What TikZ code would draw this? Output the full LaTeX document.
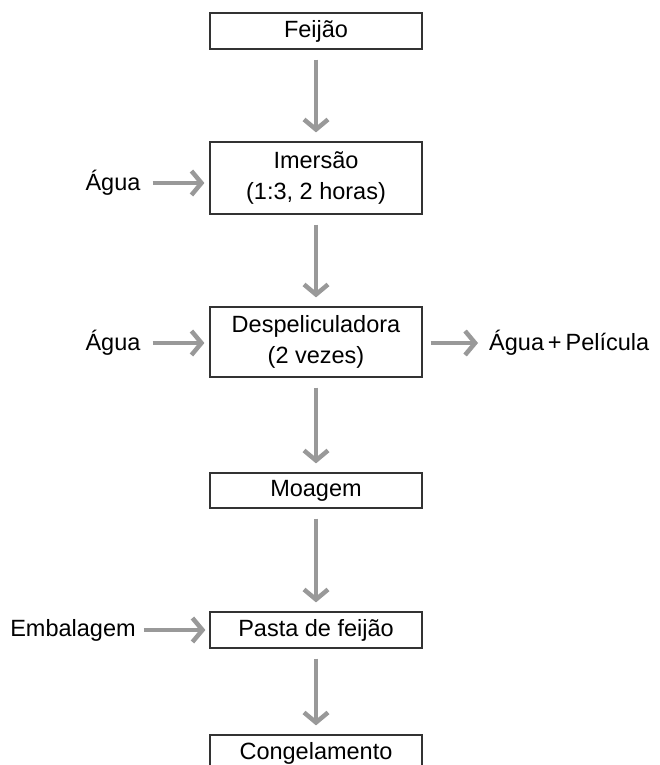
\documentclass[tikz,border=0pt]{standalone}
\usepackage{fontspec}
\setmainfont{Liberation Sans}
\usetikzlibrary{arrows.meta}
\begin{document}
\begin{tikzpicture}[x=1pt,y=-1pt,
  box/.style={draw=black!80, line width=1.2pt, minimum width=212pt, inner sep=0pt, align=center, font=\fontsize{23.5}{31}\selectfont},
  lbl/.style={font=\fontsize{23.5}{31}\selectfont, inner sep=0pt},
  flow/.style={draw=black!40, line width=4.5pt, -{Straight Barb[length=10pt,width=24pt]}}]
\useasboundingbox (0,0) rectangle (659,765);
\node[box, minimum height=36pt] (f) at (316,31) {Feijão};
\node[box, minimum height=72pt] (i) at (316,178) {Imersão\\(1:3, 2 horas)};
\node[box, minimum height=70pt] (d) at (316,342) {Despeliculadora\\(2 vezes)};
\node[box, minimum height=35pt] (m) at (316,490.5) {Moagem};
\node[box, minimum height=36pt] (p) at (316,630) {Pasta de feijão};
\node[box, anchor=base, text height=17pt, text depth=5pt, inner ysep=7pt] (c) at (316,759) {Congelamento};
\node[lbl] (a1) at (113,183) {Água};
\node[lbl] (a2) at (113,343) {Água};
\node[lbl, anchor=west] (w) at (489,343) {Água\,+\,Película};
\node[lbl] (e) at (73,630) {Embalagem};
\draw[flow, shorten <=10pt, shorten >=9pt] (f) -- (i);
\draw[flow, shorten <=10pt, shorten >=9pt] (i) -- (d);
\draw[flow, shorten <=10pt, shorten >=9pt] (d) -- (m);
\draw[flow, shorten <=10pt, shorten >=9pt] (m) -- (p);
\draw[flow, shorten <=10pt, shorten >=9pt] (p) -- (c.north);
\draw[flow, shorten <=12pt, shorten >=5pt] (a1) -- (a1 -| i.west);
\draw[flow, shorten <=12pt, shorten >=5pt] (a2) -- (a2 -| d.west);
\draw[flow, shorten <=8pt, shorten >=4pt] (e) -- (e -| p.west);
\draw[flow, shorten <=8pt, shorten >=11pt] (w -| d.east) -- (w.west);
\end{tikzpicture}
\end{document}
